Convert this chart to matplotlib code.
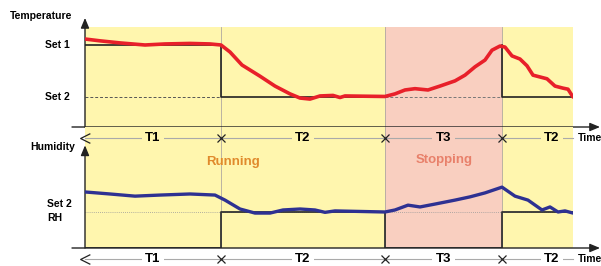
import numpy as np
import matplotlib.pyplot as plt
from matplotlib.path import Path

plt.rcParams['font.family'] = ['Liberation Sans', 'DejaVu Sans']

# Phase boundaries (time units) and labels
phase_edges = [0, 136, 300, 417, 488]
phase_names = ["T1", "T2", "T3", "T2"]
phase_colors = ["#FFF6AE", "#FFF6AE", "#F9CFC0", "#FFF6AE"]

# Temperature curve (Set 2 = 0, Set 1 = 1)
temp_t = [0, 15, 35, 60, 80, 105, 125, 136, 145, 157, 175, 190, 205, 215, 225,
          235, 248, 255, 260, 300, 310, 320, 330, 343, 355, 370, 380, 390, 400,
          407, 415, 420, 427, 435, 442, 448, 455, 462, 470, 478, 483, 488]
temp_v = [1.115, 1.08, 1.04, 1.0, 1.02, 1.03, 1.02, 1.0, 0.865, 0.615, 0.40,
          0.21, 0.06, -0.02, -0.04, 0.02, 0.03, -0.01, 0.02, 0.01, 0.06, 0.135,
          0.16, 0.135, 0.21, 0.31, 0.42, 0.58, 0.71, 0.90, 0.98, 0.96, 0.79,
          0.73, 0.60, 0.42, 0.385, 0.35, 0.21, 0.17, 0.15, 0.0]
temp_set_t = [0, 136, 136, 300]
temp_set_v = [1, 1, 0, 0]
temp_set2_t = [417, 417, 488]
temp_set2_v = [1, 0, 0]

# Humidity curve (RH set = 0, axis = -1)
hum_t = [0, 25, 50, 75, 105, 130, 140, 155, 170, 185, 198, 215, 230, 240, 250,
         300, 310, 323, 335, 350, 370, 385, 400, 417, 430, 443, 457, 465, 473,
         480, 488]
hum_v = [0.556, 0.50, 0.44, 0.47, 0.50, 0.47, 0.33, 0.083, -0.03, -0.03, 0.056,
         0.083, 0.056, -0.01, 0.03, 0.0, 0.056, 0.19, 0.14, 0.22, 0.33, 0.42,
         0.53, 0.69, 0.44, 0.33, 0.056, 0.14, 0.0, 0.03, -0.03]
hum_set_t = [0, 136, 136, 300, 300, 417, 417, 488]
hum_set_v = [-1, -1, 0, 0, -1, -1, 0, 0]

W, H = 601, 266
fig = plt.figure(figsize=(W / 100, H / 100), dpi=100)

def px_axes(x0, y0, x1, y1):
    return fig.add_axes([x0 / W, 1 - y1 / H, (x1 - x0) / W, (y1 - y0) / H])

ax1 = px_axes(85, 27, 573, 127)
ax2 = px_axes(85, 127, 573, 248)
ax1.set_ylim(-0.577, 1.346)
ax2.set_ylim(-1.0, 2.36)

for ax in (ax1, ax2):
    ax.set_xlim(0, 488)
    ax.axis('off')
    for i in range(4):
        ax.axvspan(phase_edges[i], phase_edges[i + 1], color=phase_colors[i], lw=0, zorder=0)
    for e in phase_edges[1:4]:
        ax.axvline(e, color='#B0A8A0', lw=0.6, zorder=1)

arrow = dict(arrowstyle='-|>,head_length=0.6,head_width=0.25', color='#222222', lw=1.0,
             shrinkA=0, shrinkB=0)

# Temperature panel
ax1.plot([0, 136], [0, 0], color='#555555', lw=0.7, ls=(0, (3, 2)), zorder=2)
ax1.plot([300, 417], [0, 0], color='#777777', lw=0.7, ls=(0, (3, 2)), zorder=2)
ax1.plot(temp_set_t, temp_set_v, color='#222222', lw=1.2, zorder=3)
ax1.plot(temp_set2_t, temp_set2_v, color='#222222', lw=1.2, zorder=3)
ax1.plot(temp_t, temp_v, color='#E8202A', lw=2.6, zorder=4, solid_capstyle='round',
         solid_joinstyle='round')
ax1.annotate('', xy=(0, 1.52), xytext=(0, -0.577), arrowprops=arrow, annotation_clip=False)
ax1.annotate('', xy=(515, -0.577), xytext=(-13, -0.577), arrowprops=arrow, annotation_clip=False)
ax1.text(-75, 1.56, "Temperature", fontsize=7.5, fontweight='bold', va='center', clip_on=False)
ax1.text(-40, 1.0, "Set 1", fontsize=7.5, fontweight='bold', va='center', clip_on=False)
ax1.text(-40, 0.0, "Set 2", fontsize=7.5, fontweight='bold', va='center', clip_on=False)

# Humidity panel
ax2.plot([0, 488], [0, 0], color='#999999', lw=0.6, ls=(0, (1, 1.5)), zorder=2)
ax2.plot(hum_set_t, hum_set_v, color='#333333', lw=1.3, zorder=3)
ax2.plot(hum_t, hum_v, color='#2E3192', lw=2.4, zorder=4, solid_capstyle='round',
         solid_joinstyle='round')
ax2.annotate('', xy=(0, 1.85), xytext=(0, -1.0), arrowprops=arrow, annotation_clip=False)
ax2.annotate('', xy=(515, -1.0), xytext=(-13, -1.0), arrowprops=arrow, annotation_clip=False)
ax2.text(-55, 1.80, "Humidity", fontsize=7.5, fontweight='bold', va='center', clip_on=False)
ax2.text(-38, 0.22, "Set 2", fontsize=7.5, fontweight='bold', va='center', clip_on=False)
ax2.text(-38, -0.17, "RH", fontsize=7.5, fontweight='bold', va='center', clip_on=False)
ax2.text(148, 1.38, "Running", fontsize=9.5, fontweight='bold', color='#E08A2C', ha='center', va='center')
ax2.text(359, 1.43, "Stopping", fontsize=9.5, fontweight='bold', color='#E8806A', ha='center', va='center')

chevron = Path([(1, 1), (-1, 0), (1, -1)], [Path.MOVETO, Path.LINETO, Path.LINETO])

# Phase label rows
def phase_row(ax, y, box_colors, time_dy):
    ax.plot([0, 488], [y, y], color='#AAAAAA', lw=0.8, zorder=2, clip_on=False)
    ax.plot([0], [y], marker=chevron, ms=7, mew=0.9, fillstyle='none', color='#222222',
            zorder=5, clip_on=False)
    ax.plot(phase_edges[1:4], [y] * 3, 'x', ms=6, mew=0.9, color='#222222', zorder=5, clip_on=False)
    for i, name in enumerate(phase_names):
        mid = (phase_edges[i] + phase_edges[i + 1]) / 2
        if i == 3:
            mid = 467
        ax.text(mid, y, name, fontsize=9.5, fontweight='bold', ha='center', va='center', zorder=6,
                clip_on=False, bbox=dict(boxstyle='square,pad=0.25', fc=box_colors[i], ec='none'))
    ax.text(493, y + time_dy, "Time", fontsize=7.5, fontweight='bold', va='center',
            clip_on=False)

phase_row(ax2, 2.06, phase_colors, 0)
phase_row(ax2, -1.31, ["white"] * 4, 0.0)

fig.savefig('out.png', dpi=100)
